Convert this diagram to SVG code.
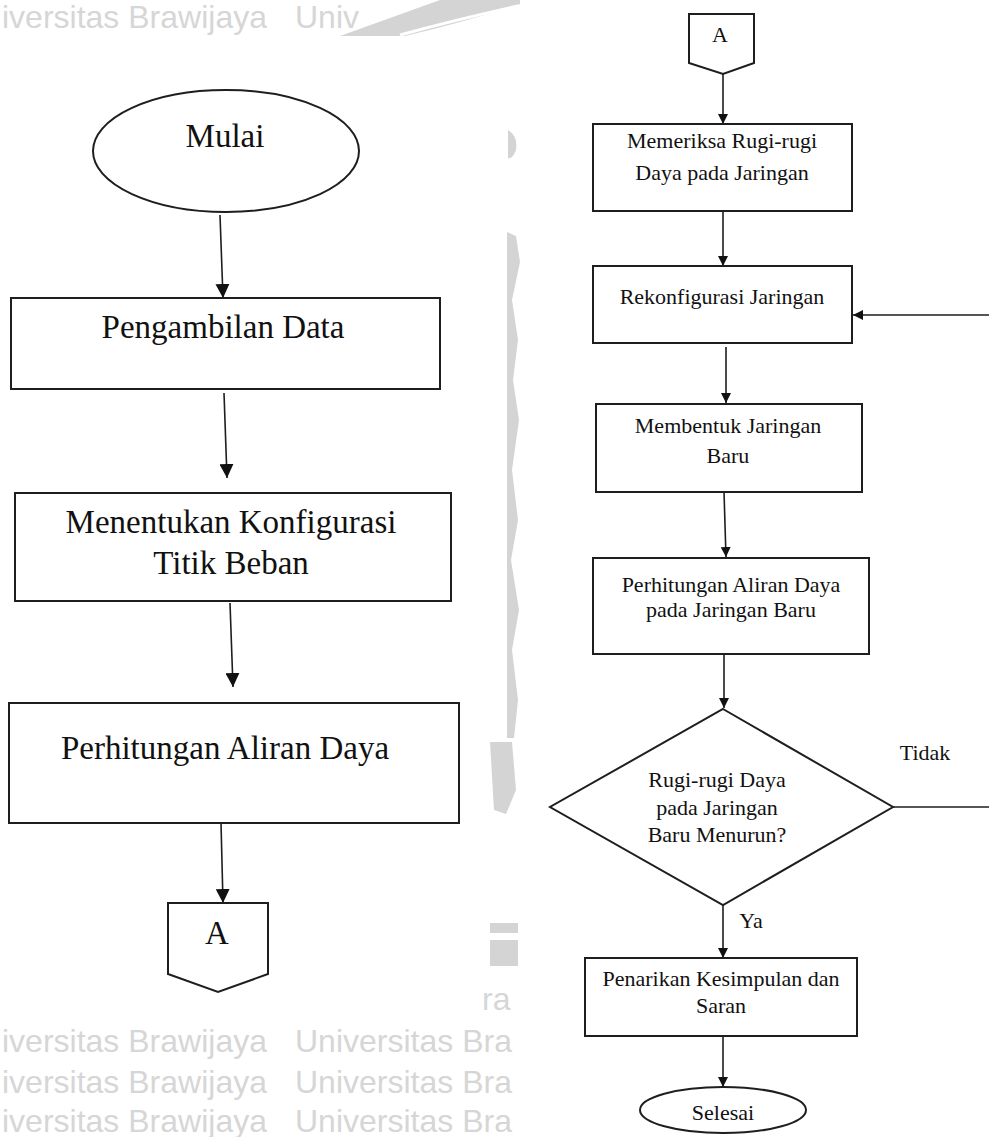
<svg xmlns="http://www.w3.org/2000/svg" width="989" height="1137" viewBox="0 0 989 1137">
  <style>
    .shape { fill: #ffffff; stroke: #1e1e1e; stroke-width: 2; }
    .lbl { font-family: "Liberation Serif", "Times New Roman", serif; fill: #111111; text-anchor: middle; }
    .big { font-size: 33px; }
    .small { font-size: 22px; }
    .edge { fill: none; stroke: #1e1e1e; stroke-width: 1.6; }
    .wm { font-family: "Liberation Sans", Arial, sans-serif; font-size: 32px; fill: #d6d6d6; }
    .wmshape { fill: #d4d4d4; }
  </style>
  <defs>
    <marker id="headL" viewBox="0 0 10 10" refX="10" refY="5" markerUnits="userSpaceOnUse" markerWidth="14" markerHeight="14" orient="auto">
      <path d="M0,0 L10,5 L0,10 Z" fill="#111111"/>
    </marker>
    <marker id="headS" viewBox="0 0 10 10" refX="10" refY="5" markerUnits="userSpaceOnUse" markerWidth="10" markerHeight="10" orient="auto">
      <path d="M0,0 L10,5 L0,10 Z" fill="#111111"/>
    </marker>
  </defs>

  <rect x="0" y="0" width="989" height="1137" fill="#ffffff"/>

  <!-- background watermark -->
  <g id="watermark">
    <path class="wmshape" d="M340,36 L405,36 Q465,22 520,4 L520,0 L440,0 Q390,18 340,36 Z"/>
    <path d="M400,35 Q455,20 518,6" fill="none" stroke="#ffffff" stroke-width="3"/>
    <text class="wm" x="2" y="28">iversitas Brawijaya</text>
    <text class="wm" x="295" y="28">Univ</text>
    <path class="wmshape" d="M508,130 Q518,136 516,150 Q512,160 508,158 Z"/>
    <path class="wmshape" d="M507,232 L516,236 L520,262 L512,300 L518,340 L513,380 L519,420 L512,470 L518,520 L511,560 L519,610 L512,650 L518,700 L514,738 L507,738 Z"/>
    <path class="wmshape" d="M490,742 L512,742 L516,790 L506,814 L494,810 Z"/>
    <rect class="wmshape" x="490" y="923" width="28" height="10"/>
    <rect class="wmshape" x="490" y="940" width="28" height="26"/>
    <text class="wm" x="482" y="1010">ra</text>
    <text class="wm" x="2" y="1052">iversitas Brawijaya</text>
    <text class="wm" x="295" y="1052">Universitas Bra</text>
    <text class="wm" x="2" y="1093">iversitas Brawijaya</text>
    <text class="wm" x="295" y="1093">Universitas Bra</text>
    <text class="wm" x="2" y="1132">iversitas Brawijaya</text>
    <text class="wm" x="295" y="1132">Universitas Bra</text>
  </g>

  <!-- connectors -->
  <g id="connectors">
    <line class="edge" x1="220" y1="215" x2="223" y2="298" marker-end="url(#headL)"/>
    <line class="edge" x1="224" y1="393" x2="227" y2="478" marker-end="url(#headL)"/>
    <line class="edge" x1="230" y1="603" x2="233" y2="687" marker-end="url(#headL)"/>
    <line class="edge" x1="221" y1="823" x2="223" y2="903" marker-end="url(#headL)"/>

    <line class="edge" x1="723" y1="74" x2="723" y2="124" marker-end="url(#headS)"/>
    <line class="edge" x1="723" y1="211" x2="723" y2="266" marker-end="url(#headS)"/>
    <line class="edge" x1="726" y1="347" x2="726" y2="403" marker-end="url(#headS)"/>
    <line class="edge" x1="724" y1="492" x2="726" y2="557" marker-end="url(#headS)"/>
    <line class="edge" x1="724" y1="654" x2="724" y2="708" marker-end="url(#headS)"/>
    <line class="edge" x1="723" y1="905" x2="723" y2="958" marker-end="url(#headS)"/>
    <line class="edge" x1="723" y1="1036" x2="723" y2="1087" marker-end="url(#headS)"/>
    <!-- loop back: its return leg runs just past the right edge -->
    <polyline class="edge" points="893,807 992,807 992,315 853,315" marker-end="url(#headS)"/>
    <text class="lbl small" x="925" y="760">Tidak</text>
    <text class="lbl small" x="751" y="928">Ya</text>
  </g>

  <!-- left column -->
  <g id="mulai">
    <ellipse class="shape" cx="226" cy="151" rx="133" ry="61"/>
    <text class="lbl big" x="225" y="147">Mulai</text>
  </g>
  <g id="pengambilan-data">
    <rect class="shape" x="11" y="298" width="429" height="91"/>
    <text class="lbl big" x="223" y="338">Pengambilan Data</text>
  </g>
  <g id="menentukan-konfigurasi">
    <rect class="shape" x="15" y="493" width="436" height="108"/>
    <text class="lbl big" x="231" y="533">Menentukan Konfigurasi</text>
    <text class="lbl big" x="231" y="574">Titik Beban</text>
  </g>
  <g id="perhitungan-aliran-daya">
    <rect class="shape" x="9" y="703" width="450" height="120"/>
    <text class="lbl big" x="225" y="759">Perhitungan Aliran Daya</text>
  </g>
  <g id="konektor-a-keluar">
    <path class="shape" d="M168,903 L268,903 L268,974 L218,992 L168,974 Z"/>
    <text class="lbl big" x="217" y="944">A</text>
  </g>

  <!-- right column -->
  <g id="konektor-a-masuk">
    <path class="shape" d="M689,14 L754,14 L754,63 L723,74 L689,63 Z"/>
    <text class="lbl small" x="720" y="42">A</text>
  </g>
  <g id="memeriksa-rugi">
    <rect class="shape" x="593" y="124" width="259" height="87"/>
    <text class="lbl small" x="722" y="148">Memeriksa Rugi-rugi</text>
    <text class="lbl small" x="722" y="180">Daya pada Jaringan</text>
  </g>
  <g id="rekonfigurasi">
    <rect class="shape" x="593" y="266" width="259" height="77"/>
    <text class="lbl small" x="722" y="304">Rekonfigurasi Jaringan</text>
  </g>
  <g id="membentuk-jaringan">
    <rect class="shape" x="596" y="404" width="266" height="88"/>
    <text class="lbl small" x="728" y="433">Membentuk Jaringan</text>
    <text class="lbl small" x="728" y="463">Baru</text>
  </g>
  <g id="perhitungan-jaringan-baru">
    <rect class="shape" x="593" y="558" width="276" height="96"/>
    <text class="lbl small" x="731" y="592">Perhitungan Aliran Daya</text>
    <text class="lbl small" x="731" y="617">pada Jaringan Baru</text>
  </g>
  <g id="keputusan-rugi">
    <path class="shape" d="M723,709 L893,807 L723,905 L550,807 Z"/>
    <text class="lbl small" x="717" y="787">Rugi-rugi Daya</text>
    <text class="lbl small" x="717" y="815">pada Jaringan</text>
    <text class="lbl small" x="717" y="842">Baru Menurun?</text>
  </g>
  <g id="penarikan-kesimpulan">
    <rect class="shape" x="585" y="958" width="272" height="78"/>
    <text class="lbl small" x="721" y="986">Penarikan Kesimpulan dan</text>
    <text class="lbl small" x="721" y="1013">Saran</text>
  </g>
  <g id="selesai">
    <ellipse class="shape" cx="723" cy="1110" rx="83" ry="23"/>
    <text class="lbl small" x="723" y="1120">Selesai</text>
  </g>
</svg>
